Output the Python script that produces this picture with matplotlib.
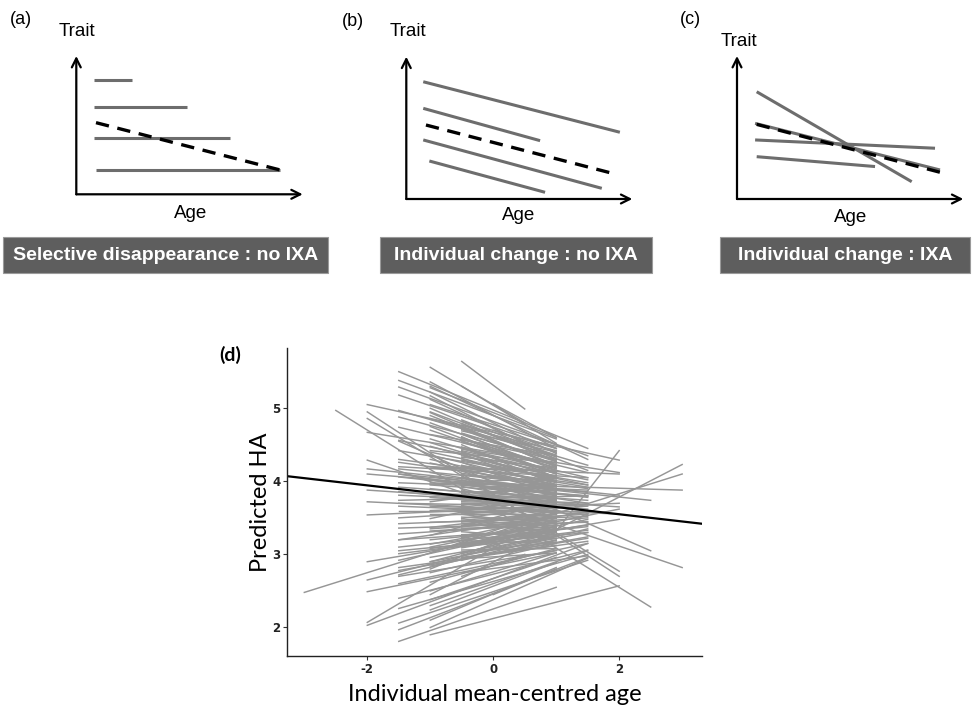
import matplotlib
matplotlib.use("Agg")
import matplotlib.pyplot as plt
from matplotlib.patches import Rectangle

plt.rcParams["axes.unicode_minus"] = False

W, H = 975, 705

# ---------- schematic panels (a)-(c): trait vs age, arbitrary units 0-10 ----------
tags = ["(a)", "(b)", "(c)"]
titles = ["Selective disappearance : no IXA",
          "Individual change : no IXA",
          "Individual change : IXA"]

# individual lines: start x, end x, start y, end y
a_x0 = [0.80, 0.80, 0.80, 0.87]
a_x1 = [2.47, 4.90, 6.79, 9.00]
a_y0 = [8.29, 6.33, 4.09, 1.76]
a_y1 = [8.29, 6.33, 4.09, 1.76]
a_mean_x = [0.87, 9.00]
a_mean_y = [5.18, 1.76]

b_x0 = [0.75, 0.75, 0.75, 1.02]
b_x1 = [9.45, 5.92, 8.65, 6.14]
b_y0 = [8.24, 6.37, 4.15, 2.67]
b_y1 = [4.69, 4.10, 0.75, 0.47]
b_mean_x = [0.87, 9.01]
b_mean_y = [5.20, 1.85]

c_x0 = [0.87, 0.80, 0.80, 0.87]
c_x1 = [7.72, 8.97, 8.75, 6.10]
c_y0 = [7.50, 5.29, 4.13, 2.96]
c_y1 = [1.21, 2.03, 3.55, 2.27]
c_mean_x = [0.87, 8.97]
c_mean_y = [5.22, 1.87]

schem = [(a_x0, a_x1, a_y0, a_y1, a_mean_x, a_mean_y),
         (b_x0, b_x1, b_y0, b_y1, b_mean_x, b_mean_y),
         (c_x0, c_x1, c_y0, c_y1, c_mean_x, c_mean_y)]

# ---------- panel (d): individual regression lines ----------
# each group: (x start, x end, y at start, y at end)
groups = [
    (-2.5, 2.5, [4.97], [2.28]),
    (-3.0, 3.0, [2.48], [4.10]),
    (-2.0, 3.0, [4.29], [2.82]),
    (-1.0, 3.0, [2.45, 3.98], [4.23, 3.88]),
    (-1.5, 2.5, [4.10, 4.55], [3.74, 3.05]),
    (1.0, 2.0, [3.32], [4.42]),
    (-2.0, 2.0, [5.05, 4.95, 4.86, 4.67, 4.17, 3.88, 3.72, 3.54, 2.90],
                [4.29, 2.70, 2.77, 4.12, 3.81, 3.65, 3.55, 3.70, 3.48]),
    (-2.0, 1.0, [2.65, 2.49, 2.07], [3.30, 3.02, 3.60]),
    (-2.0, 1.5, [2.03, 4.10], [3.15, 3.85]),
    (-1.0, 2.0, [1.90, 4.20, 3.10], [2.57, 4.10, 3.62]),
    (-1.5, 1.5, [5.50, 5.29, 4.97, 4.74, 4.56, 4.42, 4.26, 4.06, 3.92, 3.81, 3.60,
                 3.42, 3.28, 3.10, 3.01, 2.78, 2.60, 2.40, 2.26, 2.06, 1.97],
                [4.45, 4.35, 4.22, 4.12, 4.02, 3.98, 3.90, 3.78, 3.74, 3.70, 3.60,
                 3.52, 3.45, 3.38, 3.33, 3.24, 3.15, 3.06, 3.00, 2.92, 2.96]),
    (-1.5, 1.5, [4.30, 4.20, 4.10, 3.98, 3.86, 3.74, 3.66, 3.50, 3.36, 3.20, 3.05,
                 2.92, 2.82, 2.72],
                [3.95, 4.05, 3.70, 3.88, 3.62, 3.80, 3.55, 3.66, 3.44, 3.58, 3.30,
                 3.48, 3.18, 3.35]),
    (-1.5, 1.0, [5.38, 5.18, 4.88, 4.17, 3.70, 3.20, 2.70, 1.81],
                [4.58, 4.45, 4.30, 3.95, 3.66, 3.35, 3.05, 2.55]),
    (-1.0, 1.0, [5.56, 5.36, 5.22, 5.12, 5.00, 4.90, 4.80, 4.70, 4.58, 4.48, 4.36, 4.25,
                 4.12, 4.02, 3.90, 3.78, 3.66, 3.55, 3.44, 3.32, 3.20, 3.08, 2.96, 2.84,
                 2.75, 2.62, 2.50, 2.38, 2.24, 2.10],
                [4.52, 4.45, 4.38, 4.33, 4.27, 4.22, 4.17, 4.12, 4.06, 4.01, 3.95, 3.90,
                 3.83, 3.78, 3.72, 3.66, 3.60, 3.55, 3.49, 3.43, 3.37, 3.31, 3.25, 3.19,
                 3.15, 3.08, 3.02, 2.96, 2.89, 2.82]),
    (-1.0, 1.0, [5.28, 5.17, 5.05, 4.94, 4.85, 4.75, 4.64, 4.53, 4.42, 4.30, 4.18, 4.07,
                 3.96, 3.84, 3.72, 3.60, 3.49, 3.37, 3.26, 3.14, 3.02, 2.90, 2.80],
                [4.60, 4.30, 4.50, 4.20, 4.42, 4.10, 4.35, 4.00, 4.25, 3.92, 4.15, 3.84,
                 4.05, 3.76, 3.95, 3.66, 3.85, 3.56, 3.74, 3.45, 3.62, 3.35, 3.50]),
    (-0.5, 0.5, [5.64, 5.30, 4.60, 3.40, 2.70], [4.99, 4.80, 4.30, 3.55, 3.00]),
    (0.0, 1.0, [5.06, 4.70, 2.45], [4.60, 4.40, 2.80]),
    (-1.0, 1.5, [5.30, 4.95, 4.40, 3.95, 3.35, 2.90, 2.30, 2.00],
                [4.30, 4.15, 3.95, 3.80, 3.50, 3.30, 3.05, 2.95]),
    (-0.5, 1.5, [4.45, 4.20, 3.95, 3.70, 3.45, 3.15, 2.95, 2.75],
                [4.05, 3.92, 3.80, 3.68, 3.55, 3.40, 3.22, 2.98]),
    (-0.5, 1.0, [4.84, 4.79, 4.77, 4.71, 4.66, 4.65, 4.58, 4.55, 4.53, 4.47, 4.42, 4.41,
                 4.35, 4.31, 4.29, 4.22, 4.19, 4.17, 4.11, 4.06, 4.05, 3.99, 3.95, 3.93,
                 3.87, 3.83, 3.81, 3.75, 3.72, 3.69, 3.63, 3.59, 3.57, 3.51, 3.47, 3.45,
                 3.39, 3.36, 3.33, 3.27, 3.23, 3.21, 3.15, 3.11, 3.09, 3.03, 2.99, 2.96, 2.92],
                [4.34, 4.28, 4.36, 4.22, 4.27, 4.15, 4.21, 4.10, 4.19, 4.05, 4.13, 3.98,
                 4.07, 3.94, 4.03, 3.90, 3.99, 3.86, 3.93, 3.80, 3.89, 3.76, 3.85, 3.71,
                 3.79, 3.66, 3.75, 3.62, 3.70, 3.57, 3.64, 3.52, 3.60, 3.46, 3.55, 3.42,
                 3.50, 3.37, 3.46, 3.31, 3.40, 3.27, 3.35, 3.22, 3.31, 3.17, 3.25, 3.12, 3.20]),
    (-0.5, 1.0, [4.82, 4.74, 4.69, 4.61, 4.57, 4.50, 4.44, 4.38, 4.33, 4.26, 4.21, 4.14,
                 4.09, 4.02, 3.97, 3.90, 3.85, 3.78, 3.73, 3.67, 3.61, 3.55, 3.49, 3.43,
                 3.38, 3.31, 3.25, 3.19, 3.13, 3.06, 3.01, 2.94],
                [4.45, 4.20, 4.40, 4.05, 4.30, 3.95, 4.25, 3.88, 4.18, 3.80, 4.08, 3.72,
                 4.00, 3.65, 3.95, 3.58, 3.88, 3.50, 3.82, 3.45, 3.75, 3.38, 3.68, 3.30,
                 3.60, 3.22, 3.52, 3.15, 3.45, 3.08, 3.36, 3.02]),
]

# population-level fit
pop_x = [-3.27, 3.31]
pop_y = [4.07, 3.42]


def fx(px):
    return px / W


def fy(py):
    return 1 - py / H


fig = plt.figure(figsize=(9.75, 7.05), dpi=100)
fig.patch.set_facecolor("white")

# schematic axes boxes (origin at arrow corner), in pixels: left, bottom, right, top
boxes = [(76.3, 194.3, 302.7, 56.0), (406.3, 199.0, 632.3, 56.7), (737.0, 199.0, 963.3, 56.0)]
trait_pos = [(77, 32), (408, 32), (739, 42)]
age_pos = [(191, 213), (519, 216), (851, 218)]
tag_pos = [(21, 20), (353, 21), (690, 19)]
banner = [(3, 328), (380, 652), (720, 970)]

sans = ["Liberation Sans", "DejaVu Sans"]

for i in range(3):
    l, b, r, t = boxes[i]
    ax = fig.add_axes([fx(l), fy(b), fx(r - l), (b - t) / H])
    ax.set_xlim(0, 10)
    ax.set_ylim(0, 10)
    ax.axis("off")
    x0, x1, y0, y1, mx, my = schem[i]
    for k in range(len(x0)):
        ax.plot([x0[k], x1[k]], [y0[k], y1[k]], color="#6d6d6d", lw=2.2,
                solid_capstyle="butt")
    ax.plot(mx, my, color="black", lw=2.4, dashes=(4, 2.6))
    arrow = dict(arrowstyle="->", lw=1.6, color="black", shrinkA=0, shrinkB=0,
                 mutation_scale=16)
    ax.annotate("", xy=(0, 1), xytext=(0, 0), xycoords="axes fraction",
                arrowprops=arrow)
    ax.annotate("", xy=(1, 0), xytext=(0, 0), xycoords="axes fraction",
                arrowprops=arrow)

    fig.text(fx(trait_pos[i][0]), fy(trait_pos[i][1]), "Trait", ha="center",
             va="center", fontsize=13.5, family=sans)
    fig.text(fx(age_pos[i][0]), fy(age_pos[i][1]), "Age", ha="center",
             va="center", fontsize=13.5, family=sans)
    fig.text(fx(tag_pos[i][0]), fy(tag_pos[i][1]), tags[i], ha="center",
             va="center", fontsize=13, family=sans)

    bx0, bx1 = banner[i]
    fig.add_artist(Rectangle((fx(bx0), fy(273)), fx(bx1 - bx0), 36 / H,
                             transform=fig.transFigure, facecolor="#5e5e5e",
                             edgecolor="#9a9a9a", lw=0.8))
    fig.text(fx((bx0 + bx1) / 2), fy(255), titles[i], ha="center", va="center",
             fontsize=14, fontweight="bold", color="white", family=sans)

# ---------- panel (d) ----------
ax = fig.add_axes([fx(287.3), fy(656), fx(701.7 - 287.3), (656 - 348.3) / H])
for xs, xe, ys, ye in groups:
    for k in range(len(ys)):
        ax.plot([xs, xe], [ys[k], ye[k]], color="#969696", lw=1.05)
ax.plot(pop_x, pop_y, color="black", lw=1.6)

ax.set_xlim(-3.27, 3.31)
ax.set_ylim(1.61, 5.82)
ax.set_xticks([-2, 0, 2])
ax.set_yticks([2, 3, 4, 5])
for s in ["top", "right"]:
    ax.spines[s].set_visible(False)
for s in ["left", "bottom"]:
    ax.spines[s].set_linewidth(1.0)
    ax.spines[s].set_color("#222222")
ax.tick_params(length=3, width=0.8, color="#333333", labelsize=8.5, pad=2,
               labelcolor="#222222")
for lab in ax.get_xticklabels() + ax.get_yticklabels():
    lab.set_fontweight("bold")

lato = ["Lato", "DejaVu Sans"]
ax.set_xlabel("Individual mean-centred age", fontsize=17, family=lato, labelpad=6)
ax.set_ylabel("Predicted HA", fontsize=17, family=lato, labelpad=1)
fig.text(fx(230), fy(355), "(d)", ha="center", va="center", fontsize=14,
         fontweight="bold", family=lato)

fig.savefig("out.png", dpi=100)
